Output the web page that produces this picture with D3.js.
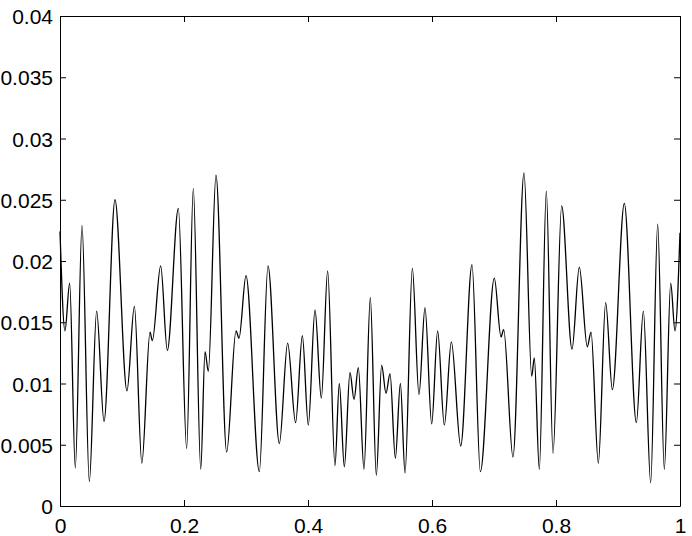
<!DOCTYPE html>
<html lang="en">
    <head>
        <meta charset="UTF-8">
        <title>signal</title>
        <script src="https://cdn.jsdelivr.net/npm/d3@7"></script>
        <style>
            body { margin: 0; background: #fff; }
            .tick text { font-family: "Liberation Sans", Arial, Helvetica, sans-serif; font-size: 21px; fill: #000; }
        </style>
    </head>
    <body>
        <div id="chart"></div>
    </body>
    <script>
        var width = 692;
        var height = 536;
        var margin = {top: 16, right: 12, bottom: 30, left: 60};
        var plotW = 620;
        var plotH = 490;

        // peaks, dips and shoulders
        var xs = [0.000, 0.008, 0.0156, 0.0247, 0.0355, 0.0473, 0.0591, 0.071, 0.0887, 0.108,
                  0.120, 0.132, 0.1452, 0.1489, 0.1624, 0.1731, 0.1909, 0.2043, 0.215, 0.227,
                  0.2339, 0.2392, 0.2516, 0.2688, 0.2839, 0.2887, 0.300, 0.3215, 0.3355, 0.3538,
                  0.3672, 0.380, 0.3909, 0.4005, 0.4113, 0.4215, 0.4317, 0.4435, 0.4505, 0.4586,
                  0.4677, 0.4742, 0.4812, 0.4903, 0.5005, 0.5102, 0.5188, 0.5258, 0.5323, 0.5409,
                  0.549, 0.5565, 0.5683, 0.579, 0.5887, 0.5995, 0.6091, 0.6199, 0.6312, 0.6463,
                  0.6645, 0.678, 0.7005, 0.7113, 0.7156, 0.7306, 0.7484, 0.7608, 0.765, 0.7731,
                  0.7844, 0.7952, 0.8091, 0.8258, 0.8376, 0.8505, 0.8565, 0.8683, 0.8801, 0.8909,
                  0.9102, 0.9296, 0.9409, 0.9527, 0.964, 0.9747, 0.985, 0.9919, 1.000];
        var ys = [0.0224, 0.0143, 0.0182, 0.0031, 0.0229, 0.0020, 0.0159, 0.0069, 0.0250, 0.0094,
                  0.0163, 0.0035, 0.0142, 0.0135, 0.0196, 0.0127, 0.0243, 0.0047, 0.0259, 0.0030,
                  0.0126, 0.0110, 0.0270, 0.0044, 0.0143, 0.0137, 0.0188, 0.0028, 0.0196, 0.0051,
                  0.0133, 0.0068, 0.0139, 0.0066, 0.0160, 0.0088, 0.0192, 0.0033, 0.0100, 0.0032,
                  0.0109, 0.0087, 0.0113, 0.0030, 0.0170, 0.0025, 0.0115, 0.0092, 0.0108, 0.0039,
                  0.0100, 0.0027, 0.0194, 0.0091, 0.0162, 0.0067, 0.0143, 0.0066, 0.0134, 0.0049,
                  0.0197, 0.0028, 0.0186, 0.0138, 0.0144, 0.0040, 0.0272, 0.0106, 0.0121, 0.0030,
                  0.0257, 0.0043, 0.0245, 0.0128, 0.0195, 0.0130, 0.0142, 0.0035, 0.0166, 0.0095,
                  0.0247, 0.0068, 0.0159, 0.0019, 0.0230, 0.0030, 0.0182, 0.0143, 0.0223];

        var xTicks = [0, 0.2, 0.4, 0.6, 0.8, 1];
        var yTicks = [0, 0.005, 0.01, 0.015, 0.02, 0.025, 0.03, 0.035, 0.04];
        var xLabels = ["0", "0.2", "0.4", "0.6", "0.8", "1"];
        var yLabels = ["0", "0.005", "0.01", "0.015", "0.02", "0.025", "0.03", "0.035", "0.04"];

        var svg = d3.select("#chart")
            .append("svg")
            .attr("width", width)
            .attr("height", height);

        var xScale = d3.scaleLinear().domain([0, 1]).range([0, plotW]);
        var yScale = d3.scaleLinear().domain([0, 0.04]).range([plotH, 0]);

        var g = svg.append("g")
            .attr("transform", "translate(" + margin.left + "," + margin.top + ")");

        // 坐标轴, ticks pointing inward on all four sides
        g.append("g")
            .attr("transform", "translate(0," + plotH + ")")
            .call(d3.axisBottom(xScale).tickValues(xTicks).tickSize(-6).tickSizeOuter(0).tickPadding(12)
                .tickFormat(function (d, i) { return xLabels[i]; }));
        g.append("g")
            .call(d3.axisLeft(yScale).tickValues(yTicks).tickSize(-6).tickSizeOuter(0).tickPadding(7)
                .tickFormat(function (d, i) { return yLabels[i]; }))
            .selectAll("text").attr("dy", "0.36em");
        g.append("g")
            .call(d3.axisTop(xScale).tickValues(xTicks).tickSize(-6).tickSizeOuter(0).tickFormat(""));
        g.append("g")
            .attr("transform", "translate(" + plotW + ",0)")
            .call(d3.axisRight(yScale).tickValues(yTicks).tickSize(-6).tickSizeOuter(0).tickFormat(""));

        g.selectAll(".domain, .tick line").attr("stroke", "#000");

        // 曲线
        var line = d3.line()
            .x(function (d, i) { return xScale(xs[i]); })
            .y(function (d) { return yScale(d); })
            .curve(d3.curveMonotoneX);

        g.append("path")
            .datum(ys)
            .attr("fill", "none")
            .attr("stroke", "#000")
            .attr("stroke-width", 1.3)
            .attr("d", line);
    </script>
</html>
